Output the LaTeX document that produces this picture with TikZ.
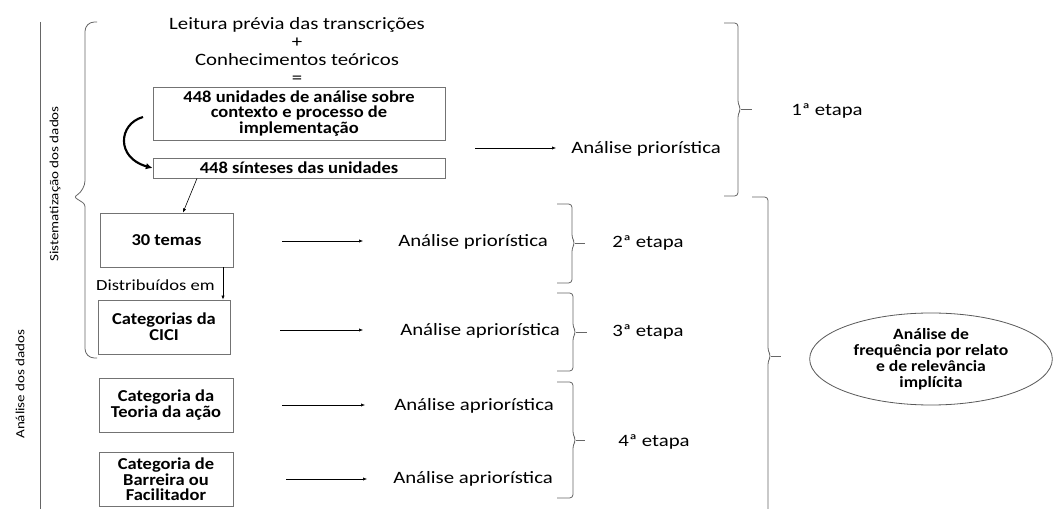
\documentclass[tikz,border=0pt]{standalone}
\usepackage{fontspec}
\setmainfont{Carlito}[FakeStretch=1.2]
\newfontfamily\boxfont{Carlito}[FakeStretch=1.11]
\newfontfamily\ovalfont{Carlito}[FakeStretch=1.12]
\usetikzlibrary{arrows.meta,shapes.geometric}

\tikzset{
  txt/.style={font=\fontsize{13}{13.5}\selectfont, inner sep=0pt, align=center},
  sidetxt/.style={font=\fontsize{9.4}{11}\selectfont, inner sep=0pt, rotate=90},
  unitbox/.style={draw=black!55, line width=0.7pt, inner sep=0pt, align=center,
                  font=\boxfont\fontsize{12.5}{11.7}\selectfont\bfseries},
  flow/.style={-{Latex[length=3pt,width=2.5pt]}, line width=0.45pt, black},
  curly/.style={draw=black!60, line width=0.6pt, rounded corners=2.5pt},
}

% closing brace: hook x, top y, bottom y, tip y, spine x, tip x
\newcommand\stagebrace[6]{%
  \draw[curly] (#1,#2) -- (#5,#2) -- (#5,#4-5) -- (#5+3,#4) -- (#5,#4+5) -- (#5,#3) -- (#1,#3);
  \draw[curly] (#5+3,#4) -- (#6,#4);}

\begin{document}
\begin{tikzpicture}[x=0.75pt,y=-0.75pt]
\clip (0,0) rectangle (1054,509);
\fill[white] (0,0) rectangle (1054,509);

% outer axis: data analysis
\coordinate (axtop) at (40,22);
\coordinate (axbot) at (40,509);
\draw[black!60, line width=0.6pt] (axtop) -- (axbot);
\node[sidetxt] (analise) at (20,384) {Análise dos dados};
\node[sidetxt] (sistem) at (55,184) {Sistematização dos dados};

% opening brace of the systematisation stage
\draw[draw=black!60, line width=0.6pt]
  (97,22) [rounded corners=7pt] -- (85,22) -- (85,190)
  [rounded corners=2pt] -- (74,197) -- (85,204)
  [rounded corners=7pt] -- (85,358) -- (97,358);

% heading
\node[txt, font=\fontsize{13}{13.5}\selectfont] (heading) at (297,50)
  {Leitura prévia das transcrições\\+\\Conhecimentos teóricos\\=};

% unit boxes
\node[unitbox, minimum width=219pt, minimum height=39.75pt] (unid) at (299,113.5)
  {448 unidades de análise sobre\\contexto e processo de\\implementação};
\node[unitbox, minimum width=219pt, minimum height=15pt] (sint) at (299,168)
  {448 sínteses das unidades};
\draw[-{Latex[length=5pt,width=5pt]}, line width=1.6pt]
  (143,117) .. controls (118,124) and (116,158) .. (sint.west);

\node[unitbox, minimum width=99.75pt, minimum height=40.5pt] (temas) at (166.5,240) {30 temas};
\node[unitbox, minimum width=99pt, minimum height=40.5pt] (cici) at (164,327) {Categorias da\\CICI};
\node[unitbox, minimum width=100.5pt, minimum height=40.5pt] (teoria) at (166,405) {Categoria da\\Teoria da ação};
\node[unitbox, minimum width=100.5pt, minimum height=40pt] (barreira) at (166,479.5) {Categoria de\\Barreira ou\\Facilitador};

\draw[flow] (sint.south -| 197,0) -- (temas.north -| 183,0);
\node[txt, anchor=east, font=\fontsize{11.6}{13}\selectfont] (distr) at (215,285) {Distribuídos em};
\draw[flow] (temas.south -| 223,0) -- (cici.north -| 223,0);

% analysis labels
\node[txt, anchor=west] (ap1) at (571,149) {Análise priorística};
\node[txt, anchor=west] (ap2) at (398,242) {Análise priorística};
\node[txt, anchor=west] (aa3) at (400,331) {Análise apriorística};
\node[txt, anchor=west] (aa4) at (394,406) {Análise apriorística};
\node[txt, anchor=west] (aa5) at (393,479) {Análise apriorística};

\draw[flow] (475,148) -- (556,148);
\draw[flow] (282,241) -- (363,241);
\draw[flow] (280,330) -- (363,330);
\draw[flow] (282,405) -- (365,405);
\draw[flow] (286,479) -- (367,479);

% stage braces
\stagebrace{724}{23}{196}{109}{738}{752}
\node[txt, anchor=west] (e1) at (791,111) {1ª etapa};
\stagebrace{557}{204}{283}{243}{572}{585}
\node[txt, anchor=west] (e2) at (612,243) {2ª etapa};
\stagebrace{557}{293}{371}{332}{573}{587}
\node[txt, anchor=west] (e3) at (612,332) {3ª etapa};
\stagebrace{557}{382}{498}{440}{573}{585}
\node[txt, anchor=west] (e4) at (618,442) {4ª etapa};
\stagebrace{752}{197}{515}{356}{768}{781}

% frequency analysis
\node[draw=black!65, line width=0.6pt, ellipse, minimum width=182pt, minimum height=69pt,
      inner sep=0pt, font=\ovalfont\fontsize{11.8}{12}\selectfont\bfseries, align=center] (freq) at (931,359)
  {Análise de\\frequência por relato\\e de relevância\\implícita};
\end{tikzpicture}
\end{document}
